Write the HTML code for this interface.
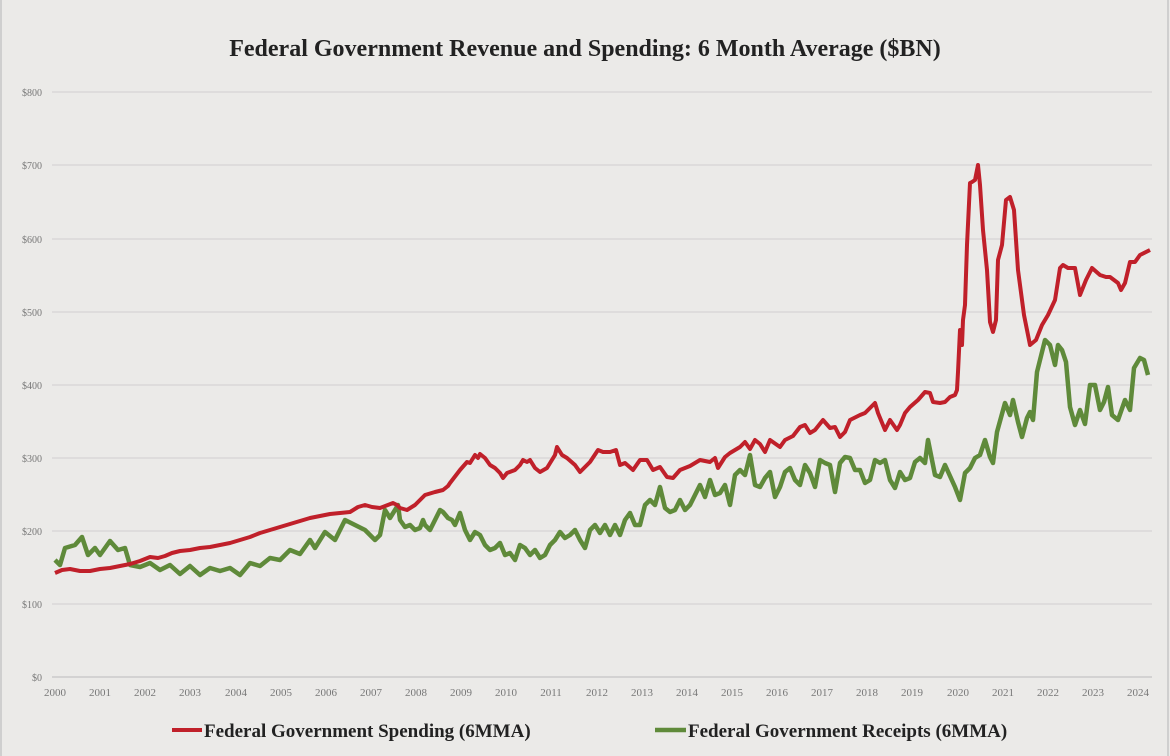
<!DOCTYPE html>
<html><head><meta charset="utf-8"><style>
body{margin:0;background:#ebeae8;}
svg{display:block}
</style></head><body>
<svg width="1170" height="756" viewBox="0 0 1170 756" xmlns="http://www.w3.org/2000/svg">
<rect x="0" y="0" width="1170" height="756" fill="#ebeae8"/>
<line x1="1" y1="0" x2="1" y2="756" stroke="#cfcfcf" stroke-width="2"/>
<line x1="1168" y1="0" x2="1168" y2="756" stroke="#cfcfcf" stroke-width="2"/>
<text x="585" y="56" text-anchor="middle" font-family="Liberation Serif, serif" font-size="24" font-weight="bold" fill="#222">Federal Government Revenue and Spending: 6 Month Average ($BN)</text>
<g stroke="#d2cfcf" stroke-width="1">
<line x1="52" y1="92" x2="1152" y2="92"/><line x1="52" y1="165" x2="1152" y2="165"/>
<line x1="52" y1="239" x2="1152" y2="239"/><line x1="52" y1="312" x2="1152" y2="312"/>
<line x1="52" y1="385" x2="1152" y2="385"/><line x1="52" y1="458" x2="1152" y2="458"/>
<line x1="52" y1="531" x2="1152" y2="531"/><line x1="52" y1="604" x2="1152" y2="604"/>
<line x1="52" y1="677" x2="1152" y2="677" stroke="#bbb"/>
</g>
<g font-family="Liberation Serif, serif" font-size="10" fill="#777" text-anchor="end">
<text x="42" y="96">$800</text><text x="42" y="169">$700</text><text x="42" y="243">$600</text>
<text x="42" y="316">$500</text><text x="42" y="389">$400</text><text x="42" y="462">$300</text>
<text x="42" y="535">$200</text><text x="42" y="608">$100</text><text x="42" y="681">$0</text>
</g>
<g font-family="Liberation Serif, serif" font-size="11" fill="#777" text-anchor="middle">
<text x="55" y="696">2000</text><text x="100" y="696">2001</text><text x="145" y="696">2002</text><text x="190" y="696">2003</text><text x="236" y="696">2004</text><text x="281" y="696">2005</text><text x="326" y="696">2006</text><text x="371" y="696">2007</text><text x="416" y="696">2008</text><text x="461" y="696">2009</text><text x="506" y="696">2010</text><text x="551" y="696">2011</text><text x="597" y="696">2012</text><text x="642" y="696">2013</text><text x="687" y="696">2014</text><text x="732" y="696">2015</text><text x="777" y="696">2016</text><text x="822" y="696">2017</text><text x="867" y="696">2018</text><text x="912" y="696">2019</text><text x="958" y="696">2020</text><text x="1003" y="696">2021</text><text x="1048" y="696">2022</text><text x="1093" y="696">2023</text><text x="1138" y="696">2024</text>
</g>
<polyline fill="none" stroke="#5f8a3a" stroke-width="4.5" stroke-linejoin="round" points="55,560 60,565 65,548 75,545 82,537 88,555 95,548 100,555 110,541 118,550 125,548 130,565 140,567 150,563 160,570 170,565 180,574 190,566 200,575 210,568 220,571 230,568 240,575 250,563 260,566 270,558 280,560 290,550 300,554 310,540 315,548 325,532 335,540 345,520 355,525 365,530 375,540 380,535 385,510 390,518 395,510 398,505 400,520 405,527 410,525 415,530 420,528 423,520 425,525 430,530 440,510 443,512 448,518 452,520 455,525 460,513 465,530 470,540 475,532 480,535 485,545 490,550 495,548 500,543 505,555 510,553 515,560 520,545 525,548 530,555 535,550 540,558 545,555 550,545 555,540 560,532 565,538 570,535 575,530 580,540 585,548 590,530 595,525 600,533 605,525 610,535 615,525 620,535 625,520 630,513 635,525 640,525 645,505 650,500 655,505 660,487 665,508 670,512 675,510 680,500 685,510 690,505 695,495 700,485 705,497 710,480 715,495 720,493 725,485 730,505 735,475 740,470 745,475 750,455 755,485 760,487 765,478 770,472 775,497 780,487 785,472 790,468 795,480 800,485 805,465 810,473 815,487 820,460 825,463 830,465 835,492 840,463 845,457 850,458 855,470 860,470 865,483 870,480 875,460 880,463 885,460 890,480 895,488 900,472 905,480 910,478 915,462 920,458 925,463 928,440 935,475 940,477 945,465 955,487 960,500 965,473 970,468 975,458 980,455 985,440 990,457 993,463 997,432 1005,403 1010,415 1013,400 1018,422 1022,437 1027,418 1030,412 1033,420 1037,372 1045,340 1050,345 1055,365 1058,345 1062,350 1066,362 1070,407 1075,425 1080,410 1085,424 1090,385 1095,385 1100,410 1104,402 1108,387 1112,415 1118,420 1125,400 1130,410 1134,368 1140,358 1144,360 1148,375"/>
<polyline fill="none" stroke="#c0202a" stroke-width="4" stroke-linejoin="round" points="55,573 62,570 70,569 80,571 90,571 100,569 110,568 120,566 130,564 140,561 150,557 158,558 165,556 172,553 180,551 190,550 200,548 210,547 220,545 230,543 240,540 250,537 260,533 270,530 280,527 290,524 300,521 310,518 320,516 330,514 340,513 350,512 358,507 365,505 372,507 380,508 393,503 397,505 400,508 407,510 415,505 425,495 435,492 443,490 448,486 450,483 460,470 467,462 470,463 475,455 478,458 480,454 485,458 490,465 495,468 500,473 503,478 507,473 515,470 520,465 523,460 527,462 530,460 535,468 540,472 547,468 555,455 557,447 562,455 567,458 575,465 580,472 585,467 590,462 598,450 603,452 610,452 616,450 620,465 625,463 633,470 640,460 647,460 653,470 660,467 667,477 673,478 680,470 690,466 700,460 710,462 715,458 718,468 725,457 730,453 740,447 745,442 750,449 755,440 760,444 765,452 770,440 780,447 785,440 793,436 800,427 805,425 810,433 815,430 823,420 830,428 835,427 840,437 845,432 850,420 860,415 865,413 870,408 875,403 878,413 885,430 890,420 897,430 900,425 905,413 910,407 918,400 925,392 930,393 933,402 940,403 945,402 950,397 955,395 957,390 958,372 960,330 962,345 963,320 965,305 967,245 970,183 972,182 975,180 978,165 980,185 983,230 987,270 990,322 993,332 996,320 998,260 1002,245 1006,200 1010,197 1014,210 1018,270 1024,315 1030,345 1036,340 1042,325 1048,315 1055,300 1060,268 1063,265 1068,268 1075,268 1080,295 1086,280 1092,268 1100,275 1106,277 1110,277 1114,280 1118,283 1121,290 1125,283 1130,262 1135,262 1140,255 1150,250"/>
<line x1="172" y1="730" x2="202" y2="730" stroke="#c0202a" stroke-width="4"/>
<text x="204" y="737" font-family="Liberation Serif, serif" font-size="19" font-weight="bold" fill="#222">Federal Government Spending (6MMA)</text>
<line x1="655" y1="730" x2="686" y2="730" stroke="#5f8a3a" stroke-width="4.5"/>
<text x="688" y="737" font-family="Liberation Serif, serif" font-size="19" font-weight="bold" fill="#222">Federal Government Receipts (6MMA)</text>
</svg>
</body></html>
